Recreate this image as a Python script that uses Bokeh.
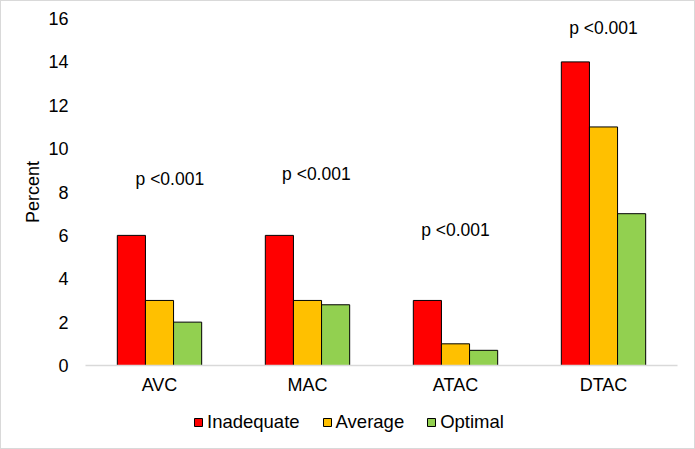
from bokeh.plotting import figure
from bokeh.layouts import column
from bokeh.models import ColumnDataSource, FactorRange, Legend, LegendItem, FixedTicker
from bokeh.transform import dodge
from bokeh.core.properties import value
from bokeh.embed import file_html
from bokeh.resources import INLINE

categories = ["AVC", "MAC", "ATAC", "DTAC"]
inadequate = [6, 6, 3, 14]
average = [3, 3, 1, 11]
optimal = [2, 2.8, 0.7, 7]
series_keys = ["inadequate", "average", "optimal"]
series_names = ["Inadequate", "Average", "Optimal"]
p_labels = ["p <0.001", "p <0.001", "p <0.001", "p <0.001"]
p_y = [8.62, 8.85, 6.27, 15.54]
p_dx = [0.07, 0.06, 0.0, 0.0]
y_ticks = [0, 2, 4, 6, 8, 10, 12, 14, 16]

FONT = "Liberation Sans"
COLORS = ["#FF0000", "#FFC000", "#92D050"]

src = ColumnDataSource(dict(cat=categories, inadequate=inadequate, average=average, optimal=optimal))

p = figure(x_range=FactorRange(factors=categories), y_range=(0, 16),
           width=693, height=401, output_backend="svg", toolbar_location=None,
           min_border_left=84, min_border_right=17, min_border_top=17, min_border_bottom=37)

bw = 0.19
offsets = [-bw, 0.0, bw]
for key, off, col in zip(series_keys, offsets, COLORS):
    p.vbar(x=dodge("cat", off, range=p.x_range), top=key, width=bw, source=src,
           fill_color=col, line_color="#000000", line_width=1)

# p-value annotations
for i, c in enumerate(categories):
    p.text(x=dodge("cat", p_dx[i], range=p.x_range), y="y", text="t",
           source=ColumnDataSource(dict(cat=[c], y=[p_y[i]], t=[p_labels[i]])),
           text_font=value(FONT), text_font_size="17.5px", text_color="#000000",
           text_align="center", text_baseline="middle")

p.grid.visible = False
p.outline_line_color = None
p.background_fill_color = "white"
p.border_fill_color = "white"

p.yaxis.ticker = FixedTicker(ticks=y_ticks)
p.yaxis.axis_line_color = None
p.yaxis.major_tick_line_color = None
p.yaxis.minor_tick_line_color = None
p.yaxis.major_tick_out = 0
p.yaxis.major_label_standoff = 17
p.yaxis.major_label_text_font = FONT
p.yaxis.major_label_text_font_size = "18px"
p.yaxis.major_label_text_color = "#000000"
p.yaxis.axis_label = "Percent"
p.yaxis.axis_label_text_font = FONT
p.yaxis.axis_label_text_font_size = "18px"
p.yaxis.axis_label_text_font_style = "normal"
p.yaxis.axis_label_text_color = "#000000"
p.yaxis.axis_label_standoff = 2

p.xaxis.axis_line_color = "#D9D9D9"
p.xaxis.axis_line_width = 1.5
p.xaxis.major_tick_line_color = None
p.xaxis.minor_tick_line_color = None
p.xaxis.major_tick_out = 0
p.xaxis.major_label_standoff = 9
p.xaxis.major_label_text_font = FONT
p.xaxis.major_label_text_font_size = "18px"
p.xaxis.major_label_text_color = "#000000"

# legend strip below the chart (same series; renderers hidden, legend only)
p2 = figure(width=693, height=46, output_backend="svg", toolbar_location=None,
            x_axis_type=None, y_axis_type=None,
            x_range=FactorRange(factors=categories), y_range=(0, 16),
            min_border=0)
p2.grid.visible = False
p2.outline_line_color = None
p2.background_fill_color = "white"
p2.border_fill_color = "white"
items = []
for key, name, off, col in zip(series_keys, series_names, offsets, COLORS):
    r = p2.vbar(x=dodge("cat", off, range=p2.x_range), top=key, width=bw, source=src,
                fill_color=col, line_color="#000000", line_width=1, visible=False)
    items.append(LegendItem(label=name, renderers=[r]))
legend = Legend(items=items, orientation="horizontal", location=(108, 15),
                glyph_width=10, glyph_height=10, label_standoff=4, spacing=22,
                padding=0, margin=0, border_line_color=None,
                background_fill_alpha=0,
                label_text_font=FONT, label_text_font_size="18.5px", label_text_color="#000000")
p2.add_layout(legend, "center")

layout = column(p, p2, spacing=0)
layout.styles = {"border": "1px solid #D9D9D9"}

open("out.html", "w").write(file_html(layout, INLINE))
